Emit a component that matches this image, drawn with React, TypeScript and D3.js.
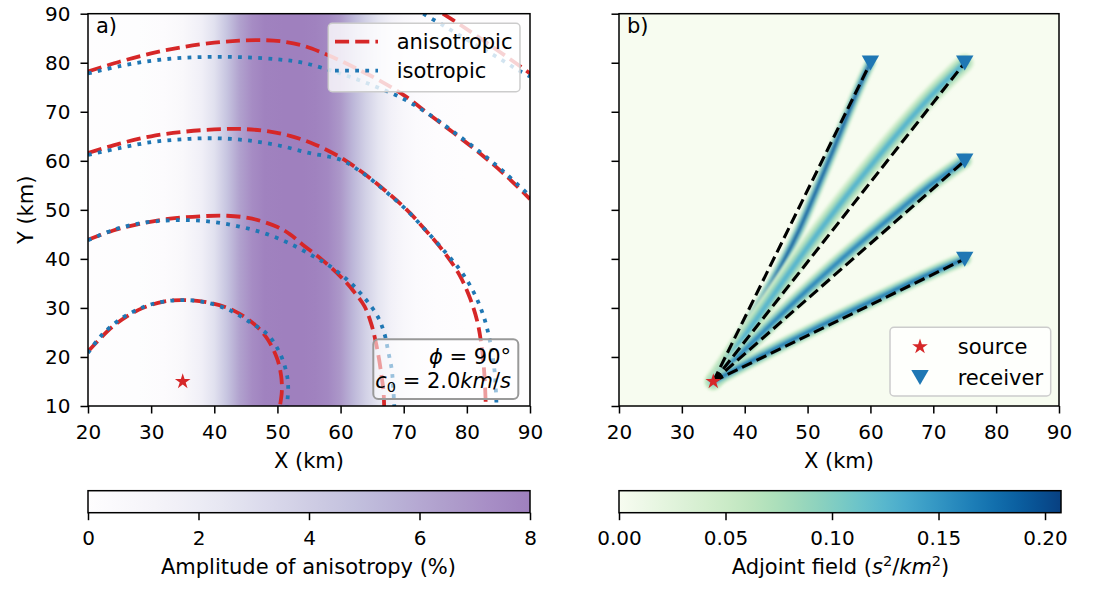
import { useEffect, useRef } from 'react';
import * as d3 from 'd3';

// ticks
const xTicks = [20, 30, 40, 50, 60, 70, 80, 90];
const yTicks = [10, 20, 30, 40, 50, 60, 70, 80, 90];
const cbarATicks = [0, 2, 4, 6, 8];
const cbarBTicks = [0, 0.05, 0.1, 0.15, 0.2];
const cbarAMax = 8;
const cbarBMax = 0.2075;

// anisotropy amplitude (%) across X
const anisoX = [20, 28, 32, 35, 38, 40, 42, 44, 46, 48, 51, 54, 56, 58, 60, 62, 64, 66, 68, 70, 72, 75, 80, 90];
const anisoAmp = [0, 0.05, 0.25, 0.7, 1.7, 2.8, 4.5, 6.3, 7.4, 7.9, 8, 8, 7.9, 7.6, 6.8, 5.3, 3.8, 2.5, 1.5, 0.8, 0.4, 0.15, 0.03, 0];

// wavefronts (x, y in km)
const aniso1 = [[20, 21.1], [24, 26.3], [28, 29.6], [32, 31.3], [35, 31.6], [39, 31.1], [43, 29.5], [46.5, 26.5], [48.5, 23.5], [50, 19.5], [50.6, 16], [50.7, 13], [50.4, 10]];
const aniso2 = [[20, 43.9], [24, 45.8], [28, 47.1], [33, 48.2], [38, 48.7], [42, 48.8], [46, 48.2], [50, 46.5], [52, 45], [54, 42.9], [57, 39.9], [60, 36.4], [62, 33.5], [63.8, 30.3], [64.8, 27], [65.5, 23.5], [66.1, 19.5], [66.5, 16], [66.8, 13], [66.9, 10]];
const aniso3 = [[20, 61.6], [25, 63.5], [30, 65], [35, 65.9], [40, 66.4], [44, 66.5], [48, 66.1], [52, 65.1], [56, 63.3], [60, 60.7], [63.5, 57.6], [67, 54], [70.5, 50], [73.5, 45.8], [76.5, 41.2], [78.8, 36.8], [80.5, 32], [81.7, 27], [82.4, 21.5], [82.8, 16], [83, 10]];
const aniso4 = [[20, 78.2], [25, 80.2], [30, 81.9], [35, 83.2], [40, 84.1], [44, 84.5], [48, 84.6], [51, 84.3], [54, 83.5], [57, 82.1], [60, 80.4], [63, 78.5], [66, 76.5], [70, 73.4], [74, 69.5], [78, 65.6], [82, 61.6], [86, 57.2], [90, 52.2]];
const aniso5 = [[76.2, 90], [79, 87.7], [82, 85.1], [85, 82.4], [88, 79.7], [90, 77.8]];

const iso1 = [[20, 20.8], [22, 24.2], [25, 27.6], [29, 30.3], [32, 31.3], [35, 31.6], [38, 31.3], [42, 29.8], [45.5, 27.2], [48.5, 24.5], [50.3, 21], [51.4, 17], [51.7, 14], [51.5, 10]];
const iso2 = [[20, 43.8], [24, 45.9], [28, 47.2], [32, 47.8], [36, 47.9], [40, 47.5], [44, 46.6], [48, 45.2], [52, 43.1], [56, 40.3], [58, 38.8], [61, 35.8], [63.5, 32.5], [65.9, 28.2], [67, 24.5], [67.5, 21.4], [68.1, 17.5], [68.3, 14.6], [68.5, 10]];
const iso3 = [[20, 61.2], [25, 62.6], [30, 63.8], [35, 64.4], [40, 64.6], [45, 64.2], [50, 63.2], [55, 61.6], [60, 60.2], [63.5, 57.5], [67, 53.9], [70.5, 49.9], [73.5, 45.8], [76.5, 41.5], [79, 37.6], [81, 33.4], [82.6, 28.5], [83.7, 23], [84.4, 17], [84.7, 10]];
const iso4 = [[20, 77.8], [25, 79.3], [30, 80.4], [35, 81], [40, 81.2], [45, 81.1], [50, 80.7], [54, 80], [58, 78.6], [62, 76.9], [66, 74.9], [70, 72.6], [74, 69.5], [78, 65.8], [82, 61.9], [86, 57.6], [90, 52.8]];
const iso5 = [[73.1, 90], [76, 87.8], [79, 85.5], [82, 83.2], [85, 81], [88, 78.6], [90, 77.2]];

const anisoFronts = [aniso1, aniso2, aniso3, aniso4, aniso5];
const isoFronts = [iso1, iso2, iso3, iso4, iso5];

// source / receivers
const sourceX = 35;
const sourceY = 15;
const receiversX = [60, 75, 75, 75];
const receiversY = [80, 80, 60, 40];

// adjoint kernels along bent rays
const ray1 = [[35, 15], [38.2, 22], [42, 30], [45.55, 38], [48.7, 46], [51.4, 54], [54, 62], [56.55, 70], [58.55, 76], [60, 80]];
const ray2 = [[35, 15], [40, 24.3], [45, 33.45], [50, 42.4], [55, 50.9], [60, 58.9], [65, 66.55], [70, 73.7], [75, 80]];
const ray3 = [[35, 15], [40, 21.4], [45, 27.65], [50, 33.7], [55, 39.5], [60, 45], [65, 50.35], [70, 55.5], [75, 60]];
const ray4 = [[35, 15], [40, 18.45], [47, 23.1], [55, 28.2], [63, 33.1], [70, 37.3], [75, 40]];
const rays = [ray1, ray2, ray3, ray4];
const kernelPeak = [0.19, 0.125, 0.16, 0.17];
const kernelWidthKm = [0.65, 1.1, 0.9, 0.8];

const FONT = 'DejaVu Sans, sans-serif';
const RED = '#d62728';
const BLUE = '#1f77b4';
const FS = 21;
const TFS = 20;

const top = 13.7;
const bottom = 406;
const xA = d3.scaleLinear().domain([20, 90]).range([88, 530]);
const xB = d3.scaleLinear().domain([20, 90]).range([619, 1059]);
const yS = d3.scaleLinear().domain([10, 90]).range([bottom, top]);
const cbTop = 490.7;
const cbBot = 512.7;
const cbA = d3.scaleLinear().domain([0, cbarAMax]).range([88, 530]);
const cbB = d3.scaleLinear().domain([0, cbarBMax]).range([619, 1061]);

const purple = (v: number) => d3.interpolateRgb('#ffffff', d3.interpolatePurples(v / cbarAMax))(0.5);
const gnbu = (v: number) => d3.interpolateGnBu(Math.min(1, v / cbarBMax));

const starPath = d3.symbol(d3.symbolStar, 76)() as string;
const triPath = 'M-8.7,-7.2 L8.7,-7.2 L0,7.8 Z';

function styleAxis(g: any) {
  g.attr('font-family', FONT).attr('font-size', TFS);
  g.select('.domain').remove();
  g.selectAll('.tick line').attr('stroke', '#000').attr('stroke-width', 1.5);
  g.selectAll('.tick text').attr('fill', '#000');
}

export default function App() {
  const ref = useRef<SVGSVGElement>(null);

  useEffect(() => {
    const svg = d3.select(ref.current);
    svg.select('.xa').call(d3.axisBottom(xA).tickValues(xTicks).tickSize(7.5).tickPadding(11) as any).call(styleAxis);
    svg.select('.xb').call(d3.axisBottom(xB).tickValues(xTicks).tickSize(7.5).tickPadding(11) as any).call(styleAxis);
    svg.select('.ya').call(d3.axisLeft(yS).tickValues(yTicks).tickSize(7.5).tickPadding(10) as any).call(styleAxis);
    svg.select('.yb').call(d3.axisLeft(yS).tickValues(yTicks).tickSize(7.5).tickFormat(() => '') as any).call(styleAxis);
    svg.select('.cba').call(d3.axisBottom(cbA).tickValues(cbarATicks).tickSize(7.5).tickPadding(11) as any).call(styleAxis);
    svg.select('.cbb').call(d3.axisBottom(cbB).tickValues(cbarBTicks).tickSize(7.5).tickPadding(11).tickFormat(d3.format('.2f')) as any).call(styleAxis);
  }, []);

  const lineA = d3.line<number[]>().x((d) => xA(d[0])).y((d) => yS(d[1])).curve(d3.curveCatmullRom);
  const lineB = d3.line<number[]>().x((d) => xB(d[0])).y((d) => yS(d[1])).curve(d3.curveCatmullRom);
  const kmPx = xB(1) - xB(0);

  return (
    <svg ref={ref} width={1103} height={589} style={{ position: 'absolute', left: 0, top: 0, background: '#fff' }} fontFamily={FONT}>
      <defs>
        <linearGradient id="anisoGrad" x1="0" x2="1" y1="0" y2="0">
          {anisoX.map((x, i) => (
            <stop key={i} offset={(x - 20) / 70} stopColor={purple(anisoAmp[i])} />
          ))}
        </linearGradient>
        <linearGradient id="cbAGrad" x1="0" x2="1">
          {d3.range(0, 1.001, 0.05).map((t, i) => (
            <stop key={i} offset={t} stopColor={purple(t * cbarAMax)} />
          ))}
        </linearGradient>
        <linearGradient id="cbBGrad" x1="0" x2="1">
          {d3.range(0, 1.001, 0.05).map((t, i) => (
            <stop key={i} offset={t} stopColor={gnbu(t * cbarBMax)} />
          ))}
        </linearGradient>
        <clipPath id="clipA">
          <rect x={xA(20)} y={top} width={xA(90) - xA(20)} height={bottom - top} />
        </clipPath>
        <clipPath id="clipB">
          <rect x={xB(20)} y={top} width={xB(90) - xB(20)} height={bottom - top} />
        </clipPath>
        <filter id="blur" x="-20%" y="-20%" width="140%" height="140%">
          <feGaussianBlur stdDeviation="1.4" />
        </filter>
      </defs>

      {/* panel a */}
      <rect x={xA(20)} y={top} width={xA(90) - xA(20)} height={bottom - top} fill="url(#anisoGrad)" />
      <g clipPath="url(#clipA)">
        {anisoFronts.map((f, i) => (
          <path key={'an' + i} d={lineA(f) as string} fill="none" stroke={RED} strokeWidth={3.8} strokeDasharray="14.1 6.1" />
        ))}
        {isoFronts.map((f, i) => (
          <path key={'is' + i} d={lineA(f) as string} fill="none" stroke={BLUE} strokeWidth={3.8} strokeDasharray="3.8 6.3" />
        ))}
      </g>
      <path d={starPath} transform={`translate(${xA(sourceX)},${yS(sourceY)})`} fill={RED} />
      <text x={96} y={33} fontSize={FS}>a)</text>

      {/* legend a */}
      <rect x={328.3} y={23.3} width={191.7} height={68.4} rx={4} fill="#fff" fillOpacity={0.8} stroke="#cccccc" strokeWidth={1.5} />
      <line x1={335} x2={378} y1={41.7} y2={41.7} stroke={RED} strokeWidth={3.8} strokeDasharray="14.1 6.1" />
      <line x1={335} x2={378} y1={70.7} y2={70.7} stroke={BLUE} strokeWidth={3.8} strokeDasharray="3.8 6.3" />
      <text x={396.7} y={41.7} dy="0.35em" fontSize={FS}>anisotropic</text>
      <text x={396.7} y={70.7} dy="0.35em" fontSize={FS}>isotropic</text>

      {/* text box a */}
      <rect x={373.3} y={339.3} width={145} height={59.7} rx={5} fill="#fff" fillOpacity={0.55} stroke="#999999" strokeWidth={2} />
      <text x={511} y={364} fontSize={FS} textAnchor="end">
        <tspan fontStyle="italic">ϕ</tspan> = 90°
      </text>
      <text x={511} y={388} fontSize={FS} textAnchor="end">
        <tspan fontStyle="italic">c</tspan>
        <tspan fontSize={14.5} dy={4}>0</tspan>
        <tspan dy={-4}> = 2.0</tspan>
        <tspan fontStyle="italic">km</tspan>/<tspan fontStyle="italic">s</tspan>
      </text>

      <rect x={xA(20)} y={top} width={xA(90) - xA(20)} height={bottom - top} fill="none" stroke="#000" strokeWidth={1.5} />
      <g className="xa" transform={`translate(0,${bottom})`} />
      <g className="ya" transform={`translate(${xA(20)},0)`} />
      <text x={(xA(20) + xA(90)) / 2} y={468} fontSize={FS} textAnchor="middle">X (km)</text>
      <text transform={`translate(33,${(top + bottom) / 2}) rotate(-90)`} fontSize={FS} textAnchor="middle">Y (km)</text>

      {/* panel b */}
      <rect x={xB(20)} y={top} width={xB(90) - xB(20)} height={bottom - top} fill={gnbu(0)} />
      <g clipPath="url(#clipB)">
        {rays.map((r, i) => (
          <g key={'k' + i} filter="url(#blur)" strokeLinecap="round" fill="none">
            <path d={lineB(r) as string} stroke={gnbu(kernelPeak[i] * 0.35)} strokeWidth={kernelWidthKm[i] * kmPx * 2.6} />
            <path d={lineB(r) as string} stroke={gnbu(kernelPeak[i] * 0.65)} strokeWidth={kernelWidthKm[i] * kmPx * 1.7} />
            <path d={lineB(r) as string} stroke={gnbu(kernelPeak[i])} strokeWidth={kernelWidthKm[i] * kmPx * 0.8} />
          </g>
        ))}
        {receiversX.map((rx, i) => (
          <line key={'d' + i} x1={xB(sourceX)} y1={yS(sourceY)} x2={xB(rx)} y2={yS(receiversY[i])} stroke="#000" strokeWidth={3.1} strokeDasharray="11 5" />
        ))}
      </g>
      {receiversX.map((rx, i) => (
        <path key={'r' + i} d={triPath} transform={`translate(${xB(rx)},${yS(receiversY[i])})`} fill={BLUE} />
      ))}
      <path d={starPath} transform={`translate(${xB(sourceX)},${yS(sourceY)})`} fill={RED} />
      <text x={627} y={33} fontSize={FS}>b)</text>

      {/* legend b */}
      <rect x={890} y={327.3} width={160.7} height={68.7} rx={4} fill="#fff" fillOpacity={0.8} stroke="#cccccc" strokeWidth={1.5} />
      <path d={starPath} transform="translate(920,346.7)" fill={RED} />
      <path d={triPath} transform="translate(920,377.3)" fill={BLUE} />
      <text x={957.7} y={346.7} dy="0.35em" fontSize={FS}>source</text>
      <text x={957.7} y={377.3} dy="0.35em" fontSize={FS}>receiver</text>

      <rect x={xB(20)} y={top} width={xB(90) - xB(20)} height={bottom - top} fill="none" stroke="#000" strokeWidth={1.5} />
      <g className="xb" transform={`translate(0,${bottom})`} />
      <g className="yb" transform={`translate(${xB(20)},0)`} />
      <text x={(xB(20) + xB(90)) / 2} y={468} fontSize={FS} textAnchor="middle">X (km)</text>

      {/* colorbars */}
      <rect x={cbA(0)} y={cbTop} width={cbA(cbarAMax) - cbA(0)} height={cbBot - cbTop} fill="url(#cbAGrad)" stroke="#000" strokeWidth={1.5} />
      <g className="cba" transform={`translate(0,${cbBot})`} />
      <text x={308.5} y={573.5} fontSize={FS} textAnchor="middle">Amplitude of anisotropy (%)</text>

      <rect x={cbB(0)} y={cbTop} width={cbB(cbarBMax) - cbB(0)} height={cbBot - cbTop} fill="url(#cbBGrad)" stroke="#000" strokeWidth={1.5} />
      <g className="cbb" transform={`translate(0,${cbBot})`} />
      <text x={840.5} y={573.5} fontSize={FS} textAnchor="middle">
        Adjoint field (<tspan fontStyle="italic">s</tspan>
        <tspan fontSize={14.5} dy={-8}>2</tspan>
        <tspan dy={8}>/</tspan>
        <tspan fontStyle="italic">km</tspan>
        <tspan fontSize={14.5} dy={-8}>2</tspan>
        <tspan dy={8}>)</tspan>
      </text>
    </svg>
  );
}
